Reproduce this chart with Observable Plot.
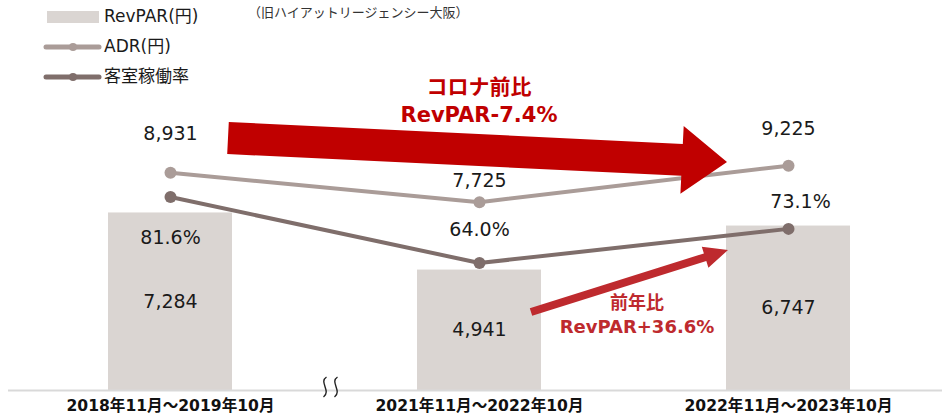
<!DOCTYPE html>
<html><head><meta charset="utf-8">
<script src="https://cdn.jsdelivr.net/npm/d3@7"></script>
<script src="https://cdn.jsdelivr.net/npm/@observablehq/plot@0.6"></script>
<style>
body{margin:0;background:#fff}
#chart{position:relative;width:942px;height:419px}
</style>
</head><body><div id="chart"></div>
<script>
// ---- data ----
const categories = ["2018年11月～2019年10月", "2021年11月～2022年10月", "2022年11月～2023年10月"];
const revpar = [7284, 4941, 6747];        // RevPAR(円) bars
const adr = [8931, 7725, 9225];           // ADR(円) line
const occupancy = [81.6, 64.0, 73.1];     // 客室稼働率 (%) line
const seriesNames = ["RevPAR(円)", "ADR(円)", "客室稼働率"];
const subtitle = "（旧ハイアットリージェンシー大阪）";
const noteBig = ["コロナ前比", "RevPAR-7.4%"];
const noteSmall = ["前年比", "RevPAR+36.6%"];

// ---- styles ----
const barColor = "#dad5d2", adrColor = "#aa9c98", occColor = "#7f6e6b";
const redBig = "#c00000", redSmall = "#be2a2e";
const font = "'DejaVu Sans', 'Noto Sans CJK JP', sans-serif";

// secondary axis for occupancy, mapped into the primary (yen) units
const Y_MAX = 16000;
const occScale = d3.scaleLinear().domain([30, 134]).range([0, Y_MAX]);

const rows = categories.map((c, i) => ({cat: c, revpar: revpar[i], adr: adr[i], occ: occupancy[i], occU: occScale(occupancy[i])}));

const W = 942, H = 419, MB = 29;
const xOpts = {type: "band", domain: categories, range: [16, 942], paddingInner: 0.5987, paddingOuter: 0.2977};
const xs = d3.scaleBand().domain(categories).range(xOpts.range).paddingInner(xOpts.paddingInner).paddingOuter(xOpts.paddingOuter);
const ys = d3.scaleLinear().domain([0, Y_MAX]).range([H - MB, 0]);
const cx = c => xs(c) + xs.bandwidth() / 2;

const fmtN = d3.format(",");
const fmtP = v => v.toFixed(1) + "%";

const adrOff = [[0, -39], [0, -21], [0, -37]];
const occOff = [[0, 41], [0, -33], [12, -27]];

const labelMarks = [];
rows.forEach((r, i) => {
  labelMarks.push(Plot.text([r], {x: "cat", y: "adr", text: d => fmtN(d.adr), dx: adrOff[i][0], dy: adrOff[i][1], fontSize: 19, fill: "#1a1a1a"}));
  labelMarks.push(Plot.text([r], {x: "cat", y: "occU", text: d => fmtP(d.occ), dx: occOff[i][0], dy: occOff[i][1], fontSize: 19, fill: "#1a1a1a"}));
});

const plot = Plot.plot({
  width: W, height: H,
  marginLeft: 8, marginRight: 0, marginTop: 0, marginBottom: MB,
  x: {...xOpts, axis: null},
  y: {domain: [0, Y_MAX], axis: null},
  style: {fontFamily: font, background: "#fff", color: "#1a1a1a", overflow: "visible"},
  marks: [
    Plot.barY(rows, {x: "cat", y: "revpar", fill: barColor}),
    Plot.ruleY([0], {stroke: "#d9d9d9", strokeWidth: 2}),
    Plot.line(rows, {x: "cat", y: "adr", stroke: adrColor, strokeWidth: 4}),
    Plot.dot(rows, {x: "cat", y: "adr", fill: adrColor, r: 6}),
    Plot.line(rows, {x: "cat", y: "occU", stroke: occColor, strokeWidth: 4}),
    Plot.dot(rows, {x: "cat", y: "occU", fill: occColor, r: 6}),
    Plot.text(rows, {x: "cat", y: d => d.revpar / 2, text: d => fmtN(d.revpar), fontSize: 19, fill: "#1a1a1a"}),
    ...labelMarks,
    Plot.text(rows, {x: "cat", text: "cat", frameAnchor: "bottom", dy: 20, fontSize: 16, fontWeight: "bold", fill: "#111"})
  ]
});
document.getElementById("chart").appendChild(plot);

// ---- annotations (drawn with the same scales) ----
const svg = d3.select(plot);
// condense category labels
svg.selectAll("text").filter(function(){ return categories.includes(this.textContent); })
  .attr("textLength", 208).attr("lengthAdjust", "spacingAndGlyphs");

function arrowPath(S, T, w, hl, hw) {
  const dx = T[0] - S[0], dy = T[1] - S[1], L = Math.hypot(dx, dy);
  const u = [dx / L, dy / L], n = [-u[1], u[0]];
  const B = [T[0] - u[0] * hl, T[1] - u[1] * hl];
  const p = (P, k) => [P[0] + n[0] * k, P[1] + n[1] * k];
  const pts = [p(S, -w / 2), p(B, -w / 2), p(B, -hw / 2), T, p(B, hw / 2), p(B, w / 2), p(S, w / 2)];
  return "M" + pts.map(q => q[0].toFixed(1) + "," + q[1].toFixed(1)).join("L") + "Z";
}
const ann = svg.append("g");
// big arrow: from after first bar to before third bar
ann.append("path").attr("fill", redBig)
  .attr("d", arrowPath([cx(categories[0]) + 58, ys(10338)], [cx(categories[2]) - 61, ys(9354)], 32, 45, 68));
// small arrow
ann.append("path").attr("fill", redSmall)
  .attr("d", arrowPath([cx(categories[1]) + 52, ys(3200)], [cx(categories[2]) - 60, ys(5744)], 8, 24, 22));

const t1 = ann.append("text").attr("text-anchor", "middle").attr("fill", redBig)
  .attr("font-family", font).attr("font-weight", "bold").attr("font-size", 21);
t1.append("tspan").attr("x", cx(categories[1])).attr("y", 94).text(noteBig[0]);
t1.append("tspan").attr("x", cx(categories[1])).attr("y", 122).text(noteBig[1]);
const t2 = ann.append("text").attr("text-anchor", "middle").attr("fill", redSmall)
  .attr("font-family", font).attr("font-weight", "bold").attr("font-size", 18);
t2.append("tspan").attr("x", cx(categories[1]) + 158).attr("y", 309).text(noteSmall[0]);
t2.append("tspan").attr("x", cx(categories[1]) + 158).attr("y", 333).text(noteSmall[1]);

// axis break mark
const bx = (cx(categories[0]) + cx(categories[1])) / 2 - 1, by = ys(0) - 2;
[0, 11].forEach(o => {
  const x0 = bx + o;
  ann.append("path").attr("fill", "none").attr("stroke", "#222").attr("stroke-width", 1.4)
    .attr("d", `M${x0 + 3},${by - 11} C${x0 - 5},${by - 6} ${x0 + 8},${by + 3} ${x0},${by + 9}`);
});

// legend
const lg = svg.append("g").attr("font-family", font).attr("font-size", 17).attr("fill", "#1a1a1a").attr("text-anchor", "start");
lg.append("rect").attr("x", 47).attr("y", 11).attr("width", 52).attr("height", 12).attr("fill", barColor);
[[47, adrColor], [77, occColor]].forEach(([y, c]) => {
  lg.append("line").attr("x1", 46).attr("x2", 99).attr("y1", y).attr("y2", y).attr("stroke", c).attr("stroke-width", 5).attr("stroke-linecap", "round");
  lg.append("circle").attr("cx", 73).attr("cy", y).attr("r", 4).attr("fill", c);
});
[[16, seriesNames[0]], [46, seriesNames[1]], [76, seriesNames[2]]].forEach(([y, t]) => {
  lg.append("text").attr("x", 104).attr("y", y).attr("dy", "0.35em").text(t);
});
svg.append("text").attr("x", 248).attr("y", 12).attr("dy", "0.35em").attr("text-anchor", "start")
  .attr("font-family", "'Noto Sans CJK JP', sans-serif")
  .attr("font-size", 13).attr("fill", "#333").text(subtitle);
</script>
</body></html>
